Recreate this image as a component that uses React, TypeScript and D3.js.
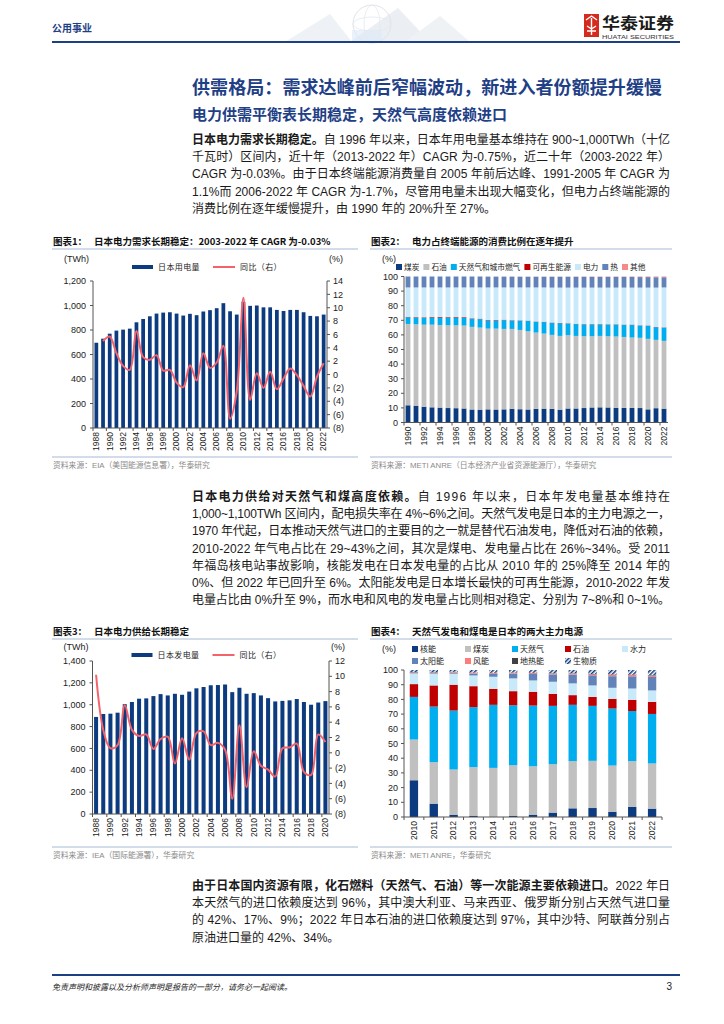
import React from 'react';
import * as d3 from 'd3';

const FONT = '"Liberation Sans", "Noto Sans CJK SC", sans-serif';
const CJK = '"Noto Sans CJK SC", "Liberation Sans", sans-serif';
const NAVY = '#0c3b80';
const SALMON = '#f4636c';
const RULE = '#a7b9d6';
const BLUE_TEXT = '#1f3f86';

// 图表1：日本用电量 (TWh) 与同比 (%)
const demandYears = [1988, 1989, 1990, 1991, 1992, 1993, 1994, 1995, 1996, 1997, 1998, 1999, 2000, 2001, 2002, 2003, 2004, 2005, 2006, 2007, 2008, 2009, 2010, 2011, 2012, 2013, 2014, 2015, 2016, 2017, 2018, 2019, 2020, 2021, 2022];
const demandTWh = [696, 729, 770, 795, 803, 811, 863, 890, 912, 934, 942, 945, 934, 918, 932, 921, 951, 962, 978, 1019, 953, 926, 1030, 997, 1000, 985, 985, 964, 955, 964, 964, 945, 915, 912, 926];
const demandYoY = [null, 5.0, 5.7, 3.2, 1.3, 0.7, 6.5, 2.6, 2.2, 2.9, 0.6, 0.7, -1.2, -1.9, 1.4, -0.9, 3.2, 1.0, 1.8, 4.3, -6.6, -2.5, 11.5, -3.8, 0.2, -2.0, 0.4, -2.2, -0.6, 0.9, -0.1, -1.7, -3.3, -0.3, 1.7];
const demandLeftTicks = [0, 200, 400, 600, 800, 1000, 1200];
const demandRightTicks = [-8, -6, -4, -2, 0, 2, 4, 6, 8, 10, 12, 14];

// 图表2：终端能源消费结构 (%)
const shareYears = [1990, 1991, 1992, 1993, 1994, 1995, 1996, 1997, 1998, 1999, 2000, 2001, 2002, 2003, 2004, 2005, 2006, 2007, 2008, 2009, 2010, 2011, 2012, 2013, 2014, 2015, 2016, 2017, 2018, 2019, 2020, 2021, 2022];
const shareCoal = [11.8, 11.5, 10.8, 10.4, 10.2, 9.9, 9.8, 9.6, 8.9, 8.8, 9.0, 8.9, 9.0, 9.4, 9.1, 8.9, 9.4, 9.5, 9.4, 8.8, 9.6, 9.6, 9.9, 10.3, 10.4, 10.3, 10.1, 10.0, 10.0, 9.9, 9.0, 9.8, 9.5];
const shareOil = [55.7, 55.8, 56.2, 56.6, 56.6, 56.7, 56.8, 56.8, 56.6, 56.2, 55.3, 55.4, 55.1, 54.7, 54.3, 53.6, 52.2, 51.4, 50.6, 50.5, 50.2, 49.7, 49.2, 48.8, 48.9, 48.8, 48.8, 48.6, 48.2, 48.1, 48.3, 46.8, 46.4];
const shareGas = [4.6, 4.6, 4.8, 4.9, 5.0, 5.2, 5.3, 5.4, 5.6, 5.8, 5.6, 5.6, 6.0, 5.8, 6.4, 7.1, 7.4, 7.9, 8.3, 8.7, 8.0, 8.1, 8.1, 8.1, 7.9, 8.0, 8.2, 8.3, 8.7, 8.4, 9.0, 8.6, 9.1];
const shareRenew = [0.3, 0.3, 0.3, 0.4, 0.5, 0.4, 0.4, 0.4, 0.3, 0.3, 0.3, 0.3, 0.3, 0.2, 0.2, 0.2, 0.2, 0.2, 0.2, 0.2, 0.2, 0.2, 0.2, 0.2, 0.2, 0.2, 0.2, 0.2, 0.2, 0.2, 0.2, 0.2, 0.2];
const shareElec = [20.1, 20.3, 20.4, 20.2, 20.2, 20.3, 20.2, 20.3, 21.1, 21.4, 22.3, 22.3, 22.1, 22.4, 22.5, 22.7, 23.3, 23.5, 23.9, 24.2, 24.4, 24.8, 25.0, 25.0, 25.0, 25.1, 25.1, 25.3, 25.3, 25.8, 25.9, 27.0, 27.3];
const shareHeat = [7.5, 7.5, 7.5, 7.5, 7.5, 7.5, 7.5, 7.5, 7.5, 7.5, 7.4, 7.4, 7.4, 7.4, 7.3, 7.3, 7.3, 7.3, 7.4, 7.4, 7.4, 7.4, 7.4, 7.3, 7.3, 7.3, 7.3, 7.3, 7.3, 7.2, 7.2, 7.1, 7.0];
const shareOther = [0, 0, 0, 0, 0, 0, 0, 0, 0, 0, 0.1, 0.1, 0.1, 0.1, 0.2, 0.2, 0.2, 0.2, 0.2, 0.2, 0.2, 0.2, 0.2, 0.3, 0.3, 0.3, 0.3, 0.3, 0.3, 0.4, 0.4, 0.5, 0.5];
const shareNames = ['煤炭', '石油', '天然气和城市燃气', '可再生能源', '电力', '热', '其他'];
const shareColors = ['#0c3b80', '#c0c0c0', '#00aeef', '#c00000', '#c8e9f9', '#6283b9', '#f58a8a'];
const pctTicks = [0, 10, 20, 30, 40, 50, 60, 70, 80, 90, 100];

// 图表3：日本发电量 (TWh) 与同比 (%)
const genYears = [1988, 1989, 1990, 1991, 1992, 1993, 1994, 1995, 1996, 1997, 1998, 1999, 2000, 2001, 2002, 2003, 2004, 2005, 2006, 2007, 2008, 2009, 2010, 2011, 2012, 2013, 2014, 2015, 2016, 2017, 2018, 2019, 2020];
const genTWh = [888, 915, 918, 927, 1005, 1025, 1055, 1058, 1079, 1097, 1085, 1100, 1091, 1120, 1150, 1162, 1178, 1180, 1185, 1115, 1155, 1100, 1106, 1085, 1060, 1030, 1035, 1040, 1052, 1025, 1000, 1020, 1033];
const genYoY = [10.2, 3.0, 0.6, 1.0, 6.2, 3.0, 2.2, 2.4, 0.5, 1.8, 2.1, -1.4, 1.9, -0.9, 2.6, 2.8, 1.0, 1.3, 0.4, -6.0, 3.6, -4.5, 0.2, -1.7, -2.2, -3.1, 0.6, 0.7, 1.2, -2.5, -2.9, 2.4, 1.4];
const genLeftTicks = [0, 200, 400, 600, 800, 1000, 1200, 1400];
const genRightTicks = [-8, -6, -4, -2, 0, 2, 4, 6, 8, 10, 12];

// 图表4：发电结构 (%)
const mixYears = [2010, 2011, 2012, 2013, 2014, 2015, 2016, 2017, 2018, 2019, 2020, 2021, 2022];
const mixNuclear = [25.0, 9.1, 1.6, 0.9, 0.0, 0.9, 1.6, 3.0, 5.9, 6.1, 3.6, 6.8, 5.7];
const mixCoal = [27.7, 28.2, 30.7, 33.0, 33.4, 34.3, 32.9, 32.9, 32.1, 32.1, 31.4, 31.2, 30.7];
const mixGas = [29.0, 37.8, 40.1, 40.8, 42.9, 40.8, 41.3, 39.7, 38.3, 37.4, 38.8, 34.1, 33.7];
const mixOil = [8.7, 14.4, 17.6, 14.3, 10.9, 9.6, 9.4, 8.2, 6.6, 6.1, 6.6, 7.6, 8.2];
const mixHydro = [7.3, 8.0, 7.5, 7.3, 8.2, 8.7, 7.7, 8.2, 8.0, 7.8, 7.5, 7.7, 7.8];
const mixSolar = [0.3, 0.4, 0.6, 1.3, 2.0, 3.3, 4.4, 5.0, 6.0, 6.9, 7.9, 8.3, 9.2];
const mixWind = [0.4, 0.4, 0.5, 0.5, 0.5, 0.5, 0.6, 0.6, 0.7, 0.7, 0.9, 0.9, 0.9];
const mixGeo = [0.2, 0.2, 0.2, 0.2, 0.2, 0.2, 0.2, 0.2, 0.2, 0.2, 0.3, 0.3, 0.3];
const mixBio = [1.4, 1.5, 1.2, 1.7, 1.9, 1.7, 1.9, 2.2, 2.2, 2.7, 3.0, 3.1, 3.5];
const mixNames = ['核能', '煤炭', '天然气', '石油', '水力', '太阳能', '风能', '地热能', '生物质'];
const mixColors = ['#0c3b80', '#c0c0c0', '#00aeef', '#c00000', '#c8e9f9', '#6283b9', '#ff7b7b', '#404040', 'url(#bioHatch)'];

// 正文
const para1 = [
  { b: '日本电力需求长期稳定。', t: '自 1996 年以来，日本年用电量基本维持在 900~1,000TWh（十亿', full: true },
  { t: '千瓦时）区间内，近十年（2013-2022 年）CAGR 为-0.75%，近二十年（2003-2022 年）', full: true },
  { t: 'CAGR 为-0.03%。由于日本终端能源消费量自 2005 年前后达峰、1991-2005 年 CAGR 为', full: true },
  { t: '1.1%而 2006-2022 年 CAGR 为-1.7%，尽管用电量未出现大幅变化，但电力占终端能源的', full: true },
  { t: '消费比例在逐年缓慢提升，由 1990 年的 20%升至 27%。', full: false },
];
const para2 = [
  { b: '日本电力供给对天然气和煤高度依赖。', t: '自 1996 年以来，日本年发电量基本维持在', full: true },
  { t: '1,000~1,100TWh 区间内，配电损失率在 4%~6%之间。天然气发电是日本的主力电源之一，', full: true },
  { t: '1970 年代起，日本推动天然气进口的主要目的之一就是替代石油发电，降低对石油的依赖，', full: true },
  { t: '2010-2022 年气电占比在 29~43%之间，其次是煤电、发电量占比在 26%~34%。受 2011', full: true },
  { t: '年福岛核电站事故影响，核能发电在日本发电量的占比从 2010 年的 25%降至 2014 年的', full: true },
  { t: '0%、但 2022 年已回升至 6%。太阳能发电是日本增长最快的可再生能源，2010-2022 年发', full: true },
  { t: '电量占比由 0%升至 9%，而水电和风电的发电量占比则相对稳定、分别为 7~8%和 0~1%。', full: true },
];
const para3 = [
  { b: '由于日本国内资源有限，化石燃料（天然气、石油）等一次能源主要依赖进口。', t: '2022 年日', full: true },
  { t: '本天然气的进口依赖度达到 96%，其中澳大利亚、马来西亚、俄罗斯分别占天然气进口量', full: true },
  { t: '的 42%、17%、9%；2022 年日本石油的进口依赖度达到 97%，其中沙特、阿联酋分别占', full: true },
  { t: '原油进口量的 42%、34%。', full: false },
];

type Line = { b?: string; t: string; full: boolean };

function Para({ lines, y0 }: { lines: Line[]; y0: number }) {
  return (
    <g fontFamily={FONT} fontSize={12} fill="#1a1a1a">
      {lines.map((ln, i) => (
        <text key={i} x={192} y={y0 + i * 17.2} textLength={ln.full ? 478 : undefined} lengthAdjust="spacing">
          {ln.b && <tspan fontWeight="bold">{ln.b}</tspan>}
          {ln.t}
        </text>
      ))}
    </g>
  );
}

const negFmt = (v: number) => (v < 0 ? `(${-v})` : `${v}`);

function ChartFrame({ x0, x1, y, num, title, srcY, source }: any) {
  return (
    <g>
      <text x={x0 + 1} y={y} fontFamily={CJK} fontSize={9.5} fontWeight="bold" fill="#111">
        {`图表${num}：`}
        <tspan x={x0 + 42}>{title}</tspan>
      </text>
      <line x1={x0} x2={x1} y1={y + 4} y2={y + 4} stroke={RULE} strokeWidth={1} />
      <line x1={x0} x2={x1} y1={srcY - 8} y2={srcY - 8} stroke={RULE} strokeWidth={1.2} />
      <text x={x0 + 1} y={srcY + 3} fontFamily={FONT} fontSize={7.8} fill="#8a8a8a">{source}</text>
    </g>
  );
}

function BarLineChart({ years, bars, yoy, xL, xR, yT, yB, headY, leftTicks, rightTicks, barName }: any) {
  const x = d3.scaleBand<number>().domain(years).range([xL, xR]).paddingInner(0.44).paddingOuter(0.22);
  const yL = d3.scaleLinear().domain([0, leftTicks[leftTicks.length - 1]]).range([yB, yT]);
  const yR = d3.scaleLinear().domain([rightTicks[0], rightTicks[rightTicks.length - 1]]).range([yB, yT]);
  const cx = (yr: number) => (x(yr) ?? 0) + x.bandwidth() / 2;
  const line = d3
    .line<number | null>()
    .defined((d) => d != null)
    .x((_, i) => cx(years[i]))
    .y((d) => yR(d as number))
    .curve(d3.curveCatmullRom.alpha(0.5));
  const step = x.step();
  const labelYears = years.filter((_: number, i: number) => i % 2 === 0);
  return (
    <g fontFamily={FONT}>
      <text x={xL - 29} y={headY} fontSize={9} fill="#222">(TWh)</text>
      <text x={xR + 2} y={headY} fontSize={9} fill="#222">(%)</text>
      <rect x={xL + 39} y={headY + 3} width={21} height={4} fill={NAVY} />
      <text x={xL + 65} y={headY + 8} fontFamily={CJK} fontSize={8} letterSpacing={0.4} fill="#222">{barName}</text>
      <line x1={xL + 120} x2={xL + 142} y1={headY + 5} y2={headY + 5} stroke={SALMON} strokeWidth={2} />
      <text x={xL + 147} y={headY + 8} fontFamily={CJK} fontSize={8} letterSpacing={0.4} fill="#222">同比（右）</text>
      {years.map((yr: number, i: number) => (
        <rect key={yr} x={x(yr)} y={yL(bars[i])} width={x.bandwidth()} height={yB - yL(bars[i])} fill={NAVY} />
      ))}
      <path d={line(yoy) ?? ''} fill="none" stroke={SALMON} strokeWidth={2} />
      <line x1={xL} x2={xL} y1={yT} y2={yB} stroke="#555" />
      <line x1={xR} x2={xR} y1={yT} y2={yB} stroke="#555" />
      <line x1={xL} x2={xR} y1={yB} y2={yB} stroke="#555" />
      {leftTicks.map((t: number) => (
        <g key={t}>
          <line x1={xL - 3} x2={xL} y1={yL(t)} y2={yL(t)} stroke="#555" />
          <text x={xL - 7} y={yL(t)} dy="0.35em" textAnchor="end" fontSize={9} fill="#222">{d3.format(',')(t)}</text>
        </g>
      ))}
      {rightTicks.map((t: number) => (
        <g key={t}>
          <line x1={xR} x2={xR + 3} y1={yR(t)} y2={yR(t)} stroke="#555" />
          <text x={xR + 6} y={yR(t)} dy="0.35em" fontSize={9} fill="#222">{negFmt(t)}</text>
        </g>
      ))}
      {d3.range(0, years.length + 1, 2).map((k) => (
        <line key={k} x1={xL + k * step} x2={xL + k * step} y1={yB} y2={yB + 3} stroke="#555" />
      ))}
      {labelYears.map((yr: number) => (
        <text key={yr} transform={`translate(${cx(yr)},${yB + 4}) rotate(-90)`} dy="0.33em" textAnchor="end" fontSize={8.5} fill="#222">
          {yr}
        </text>
      ))}
    </g>
  );
}

function StackedChart({ years, series, colors, xL, xR, yT, yB, pad, everyOther }: any) {
  const keys = series.map((_: any, i: number) => `s${i}`);
  const table = years.map((yr: number, j: number) => {
    const row: any = { year: yr };
    series.forEach((s: number[], i: number) => (row[`s${i}`] = s[j]));
    return row;
  });
  const stacked = d3.stack().keys(keys)(table);
  const x = d3.scaleBand<number>().domain(years).range([xL, xR]).paddingInner(pad).paddingOuter(pad / 2);
  const y = d3.scaleLinear().domain([0, 100]).range([yB, yT]);
  const step = x.step();
  const cx = (yr: number) => (x(yr) ?? 0) + x.bandwidth() / 2;
  const labelYears = everyOther ? years.filter((_: number, i: number) => i % 2 === 0) : years;
  const tickIdx = everyOther ? d3.range(0, years.length + 1, 2) : d3.range(0, years.length + 1);
  return (
    <g fontFamily={FONT}>
      {stacked.map((layer: any, i: number) => (
        <g key={i} fill={colors[i]}>
          {layer.map((d: any, j: number) => (
            <rect key={j} x={x(years[j])} y={y(d[1])} width={x.bandwidth()} height={Math.max(0, y(d[0]) - y(d[1]))} />
          ))}
        </g>
      ))}
      <line x1={xL} x2={xL} y1={yT} y2={yB} stroke="#555" />
      <line x1={xL} x2={xR} y1={yB} y2={yB} stroke="#555" />
      {pctTicks.map((t) => (
        <g key={t}>
          <line x1={xL - 3} x2={xL} y1={y(t)} y2={y(t)} stroke="#555" />
          <text x={xL - 6} y={y(t)} dy="0.35em" textAnchor="end" fontSize={9} fill="#222">{t}</text>
        </g>
      ))}
      {tickIdx.map((k: number) => (
        <line key={k} x1={xL + k * step} x2={xL + k * step} y1={yB} y2={yB + 3} stroke="#555" />
      ))}
      {labelYears.map((yr: number) => (
        <text key={yr} transform={`translate(${cx(yr)},${yB + 4}) rotate(-90)`} dy="0.33em" textAnchor="end" fontSize={8.5} fill="#222">
          {yr}
        </text>
      ))}
    </g>
  );
}

function Swatch({ x, y, fill, label, fs = 7.7 }: any) {
  return (
    <g>
      <rect x={x} y={y - 6} width={6} height={6} fill={fill} />
      <text x={x + 8} y={y} fontFamily={CJK} fontSize={fs} fill="#222">{label}</text>
    </g>
  );
}

function Header() {
  return (
    <g>
      <g opacity={0.6}>
        <polygon points="285,42 330,14 352,42" fill="#e3e8ef" />
        <polygon points="350,42 398,8 430,42" fill="#dfe5ee" />
        <polygon points="405,42 440,16 470,42" fill="#e6eaf0" />
        <circle cx={372} cy={24} r={19} fill="none" stroke="#c9d3e0" strokeWidth={1} />
        <ellipse cx={372} cy={24} rx={19} ry={7} fill="none" stroke="#d3dbe6" strokeWidth={0.8} />
        <ellipse cx={372} cy={24} rx={8} ry={19} fill="none" stroke="#d3dbe6" strokeWidth={0.8} />
        <rect x={352} y={30} width={30} height={12} fill="#c8def0" opacity={0.6} />
      </g>
      <text x={52} y={32} fontFamily={CJK} fontSize={10} fontWeight="bold" fill={BLUE_TEXT}>公用事业</text>
      <rect x={584} y={14} width={15} height={23} fill="#d52b1e" />
      <path d="M586,20 l5.5,-4 l5.5,4 M591.5,18 v17 M587,26 l4.5,3 l4.5,-3 M587,31 h9" stroke="#fff" strokeWidth={1.4} fill="none" />
      <text x={602} y={29} fontFamily={CJK} fontSize={16} fontWeight="bold" fill="#1a1a1a" textLength={72} lengthAdjust="spacingAndGlyphs">华泰证券</text>
      <text x={602} y={39} fontFamily={FONT} fontSize={4.8} fill="#333" textLength={72} lengthAdjust="spacingAndGlyphs">HUATAI SECURITIES</text>
      <line x1={52} x2={680} y1={42} y2={42} stroke="#1d3f84" strokeWidth={2.2} />
    </g>
  );
}

export default function App() {
  const legend2X = [396, 423.4, 450.8, 524.4, 574.9, 602.3, 622];
  const legend4 = [
    { x: 412, y: 652 }, { x: 465, y: 652 }, { x: 512, y: 652 }, { x: 565, y: 652 }, { x: 622, y: 652 },
    { x: 412, y: 664 }, { x: 465, y: 664 }, { x: 512, y: 664 }, { x: 565, y: 664 },
  ];
  return (
    <svg width={724} height={1024} viewBox="0 0 724 1024" style={{ position: 'absolute', left: 0, top: 0, background: '#fff' }}>
      <defs>
        <pattern id="bioHatch" width={3} height={3} patternUnits="userSpaceOnUse" patternTransform="rotate(45)">
          <rect width={3} height={3} fill="#fff" />
          <rect width={1.5} height={3} fill="#0c3b80" />
        </pattern>
      </defs>
      <Header />

      <text x={192} y={94} fontFamily={CJK} fontSize={18} fontWeight="bold" fill={BLUE_TEXT} textLength={470} lengthAdjust="spacing">
        供需格局：需求达峰前后窄幅波动，新进入者份额提升缓慢
      </text>
      <text x={192} y={120} fontFamily={CJK} fontSize={15} fontWeight="bold" fill={BLUE_TEXT}>
        电力供需平衡表长期稳定，天然气高度依赖进口
      </text>
      <Para lines={para1} y0={144} />

      {/* 图表1 */}
      <ChartFrame x0={52} x1={358} y={245} num={1} title="日本电力需求长期稳定：2003-2022 年 CAGR 为-0.03%" srcY={465} source="资料来源：EIA（美国能源信息署），华泰研究" />
      <BarLineChart years={demandYears} bars={demandTWh} yoy={demandYoY} xL={93} xR={327} yT={281} yB={428} headY={262} leftTicks={demandLeftTicks} rightTicks={demandRightTicks} barName="日本用电量" />

      {/* 图表2 */}
      <ChartFrame x0={370} x1={672} y={245} num={2} title="电力占终端能源的消费比例在逐年提升" srcY={465} source="资料来源：METI ANRE（日本经济产业省资源能源厅），华泰研究" />
      <text x={382} y={262} fontFamily={FONT} fontSize={9} fill="#222">(%)</text>
      {shareNames.map((n, i) => (
        <Swatch key={n} x={legend2X[i]} y={270} fill={shareColors[i]} label={n} />
      ))}
      <StackedChart
        years={shareYears}
        series={[shareCoal, shareOil, shareGas, shareRenew, shareElec, shareHeat, shareOther]}
        colors={shareColors}
        xL={404} xR={668} yT={276.5} yB={422.5} pad={0.4} everyOther
      />

      <Para lines={para2} y0={501} />

      {/* 图表3 */}
      <ChartFrame x0={52} x1={358} y={635} num={3} title="日本电力供给长期稳定" srcY={855} source="资料来源：IEA（国际能源署），华泰研究" />
      <BarLineChart years={genYears} bars={genTWh} yoy={genYoY} xL={92.5} xR={329} yT={661} yB={814} headY={650} leftTicks={genLeftTicks} rightTicks={genRightTicks} barName="日本发电量" />

      {/* 图表4 */}
      <ChartFrame x0={370} x1={672} y={635} num={4} title="天然气发电和煤电是日本的两大主力电源" srcY={855} source="资料来源：METI ANRE，华泰研究" />
      <text x={382} y={652} fontFamily={FONT} fontSize={9} fill="#222">(%)</text>
      {mixNames.map((n, i) => (
        <Swatch key={n} x={legend4[i].x} y={legend4[i].y} fill={mixColors[i]} label={n} fs={8} />
      ))}
      <StackedChart
        years={mixYears}
        series={[mixNuclear, mixCoal, mixGas, mixOil, mixHydro, mixSolar, mixWind, mixGeo, mixBio]}
        colors={mixColors}
        xL={404} xR={662} yT={670} yB={817} pad={0.58} everyOther={false}
      />

      <Para lines={para3} y0={890} />

      <line x1={52} x2={680} y1={975} y2={975} stroke="#1d3f84" strokeWidth={2.2} />
      <text x={52} y={990} fontFamily={CJK} fontSize={8} fontStyle="italic" fill="#222">免责声明和披露以及分析师声明是报告的一部分，请务必一起阅读。</text>
      <text x={672} y={990} fontFamily={FONT} fontSize={10} textAnchor="end" fill="#222">3</text>
    </svg>
  );
}
